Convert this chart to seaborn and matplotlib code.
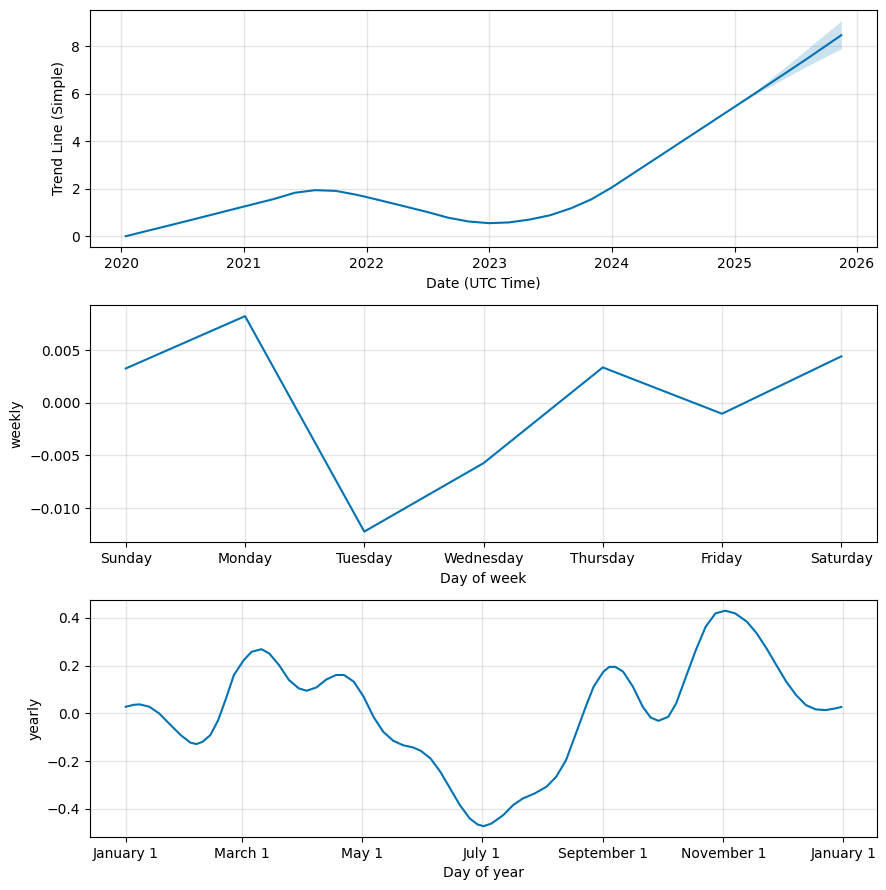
import numpy as np
import pandas as pd
import matplotlib
matplotlib.use('Agg')
import matplotlib.pyplot as plt
import matplotlib.dates as mdates
import seaborn as sns

# trend component
trend_dates = ['2020-01-15', '2020-07-01', '2021-01-01', '2021-04-01', '2021-06-01',
               '2021-08-01', '2021-10-01', '2021-12-01', '2022-01-01', '2022-04-01',
               '2022-07-01', '2022-09-01', '2022-11-01', '2023-01-01', '2023-03-01',
               '2023-05-01', '2023-07-01', '2023-09-01', '2023-11-01', '2024-01-01',
               '2025-01-01', '2025-03-01', '2025-08-01', '2025-11-15']
trend_vals = [0.00, 0.59, 1.25, 1.57, 1.83, 1.94, 1.91, 1.75, 1.65, 1.34,
              1.02, 0.78, 0.62, 0.55, 0.58, 0.70, 0.88, 1.17, 1.55, 2.05,
              5.45, 6.00, 7.44, 8.47]
trend_upper = [0.00, 0.59, 1.25, 1.57, 1.83, 1.94, 1.91, 1.75, 1.65, 1.34,
               1.02, 0.78, 0.62, 0.55, 0.58, 0.70, 0.88, 1.17, 1.55, 2.05,
               5.45, 6.08, 7.84, 9.08]
trend_lower = [0.00, 0.59, 1.25, 1.57, 1.83, 1.94, 1.91, 1.75, 1.65, 1.34,
               1.02, 0.78, 0.62, 0.55, 0.58, 0.70, 0.88, 1.17, 1.55, 2.05,
               5.45, 5.95, 7.14, 7.90]

# weekly component
weekdays = ['Sunday', 'Monday', 'Tuesday', 'Wednesday', 'Thursday', 'Friday', 'Saturday']
weekly_vals = [0.00325, 0.00822, -0.01224, -0.00574, 0.00335, -0.00105, 0.0044]

# yearly component (day of year -> value)
year_days = [0, 4, 7, 12, 17, 22, 28, 33, 36, 39,
             43, 47, 51, 55, 60, 64, 69, 73, 78, 83,
             88, 92, 97, 102, 107, 111, 116, 121, 126, 131,
             136, 141, 146, 150, 155, 160, 165, 170, 175, 179,
             182, 186, 192, 197, 202, 208, 214, 219, 224, 229,
             234, 238, 243, 246, 249, 253, 258, 263, 267, 271,
             276, 280, 285, 290, 295, 300, 305, 310, 316, 321,
             326, 331, 336, 341, 346, 351, 356, 361, 364]
yearly_vals = [0.028, 0.036, 0.038, 0.028, 0.000, -0.042, -0.091, -0.123, -0.128, -0.119,
               -0.091, -0.028, 0.063, 0.161, 0.223, 0.258, 0.269, 0.251, 0.202, 0.140,
               0.105, 0.095, 0.109, 0.142, 0.161, 0.161, 0.133, 0.070, -0.014, -0.077,
               -0.114, -0.133, -0.142, -0.156, -0.188, -0.244, -0.314, -0.384, -0.440, -0.465,
               -0.472, -0.461, -0.426, -0.384, -0.356, -0.335, -0.307, -0.265, -0.195, -0.084,
               0.028, 0.112, 0.175, 0.195, 0.195, 0.175, 0.112, 0.028, -0.017, -0.031,
               -0.014, 0.042, 0.154, 0.265, 0.363, 0.419, 0.430, 0.419, 0.384, 0.335,
               0.272, 0.202, 0.133, 0.077, 0.035, 0.017, 0.014, 0.021, 0.027]
month_ticks = [0, 59, 120, 181, 243, 304, 365]
month_labels = ['January 1', 'March 1', 'May 1', 'July 1', 'September 1', 'November 1', 'January 1']

line_color = '#0072B2'

fig = plt.figure(figsize=(8.86, 8.90), dpi=100)
w = 0.8883
ax1 = fig.add_axes([0.1016, 0.7225, w, 0.2663])
ax2 = fig.add_axes([0.1016, 0.3906, w, 0.2663])
ax3 = fig.add_axes([0.1016, 0.0596, w, 0.2663])

# 1. Trend
trend_df = pd.DataFrame({'ds': pd.to_datetime(trend_dates), 'trend': trend_vals,
                         'upper': trend_upper, 'lower': trend_lower})
sns.lineplot(data=trend_df, x='ds', y='trend', color=line_color, ax=ax1)
ax1.fill_between(trend_df['ds'], trend_df['lower'], trend_df['upper'],
                 color=line_color, alpha=0.2, lw=0)
ax1.xaxis.set_major_locator(mdates.YearLocator())
ax1.xaxis.set_major_formatter(mdates.DateFormatter('%Y'))
ax1.set_xlabel('Date (UTC Time)')
ax1.set_ylabel('Trend Line (Simple)')

# 2. Weekly
weekly_df = pd.DataFrame({'day': np.arange(len(weekdays)), 'weekly': weekly_vals})
sns.lineplot(data=weekly_df, x='day', y='weekly', color=line_color, ax=ax2)
ax2.set_xticks(weekly_df['day'])
ax2.set_xticklabels(weekdays)
ax2.set_xlabel('Day of week')
ax2.set_ylabel('weekly')

# 3. Yearly
yearly_df = pd.DataFrame({'doy': year_days, 'yearly': yearly_vals})
sns.lineplot(data=yearly_df, x='doy', y='yearly', color=line_color, ax=ax3)
ax3.set_xticks(month_ticks)
ax3.set_xticklabels(month_labels)
ax3.set_xlabel('Day of year')
ax3.set_ylabel('yearly')

for ax in (ax1, ax2, ax3):
    ax.grid(True, which='major', c='gray', ls='-', lw=1, alpha=0.2)

fig.savefig('out.png', dpi=100)
